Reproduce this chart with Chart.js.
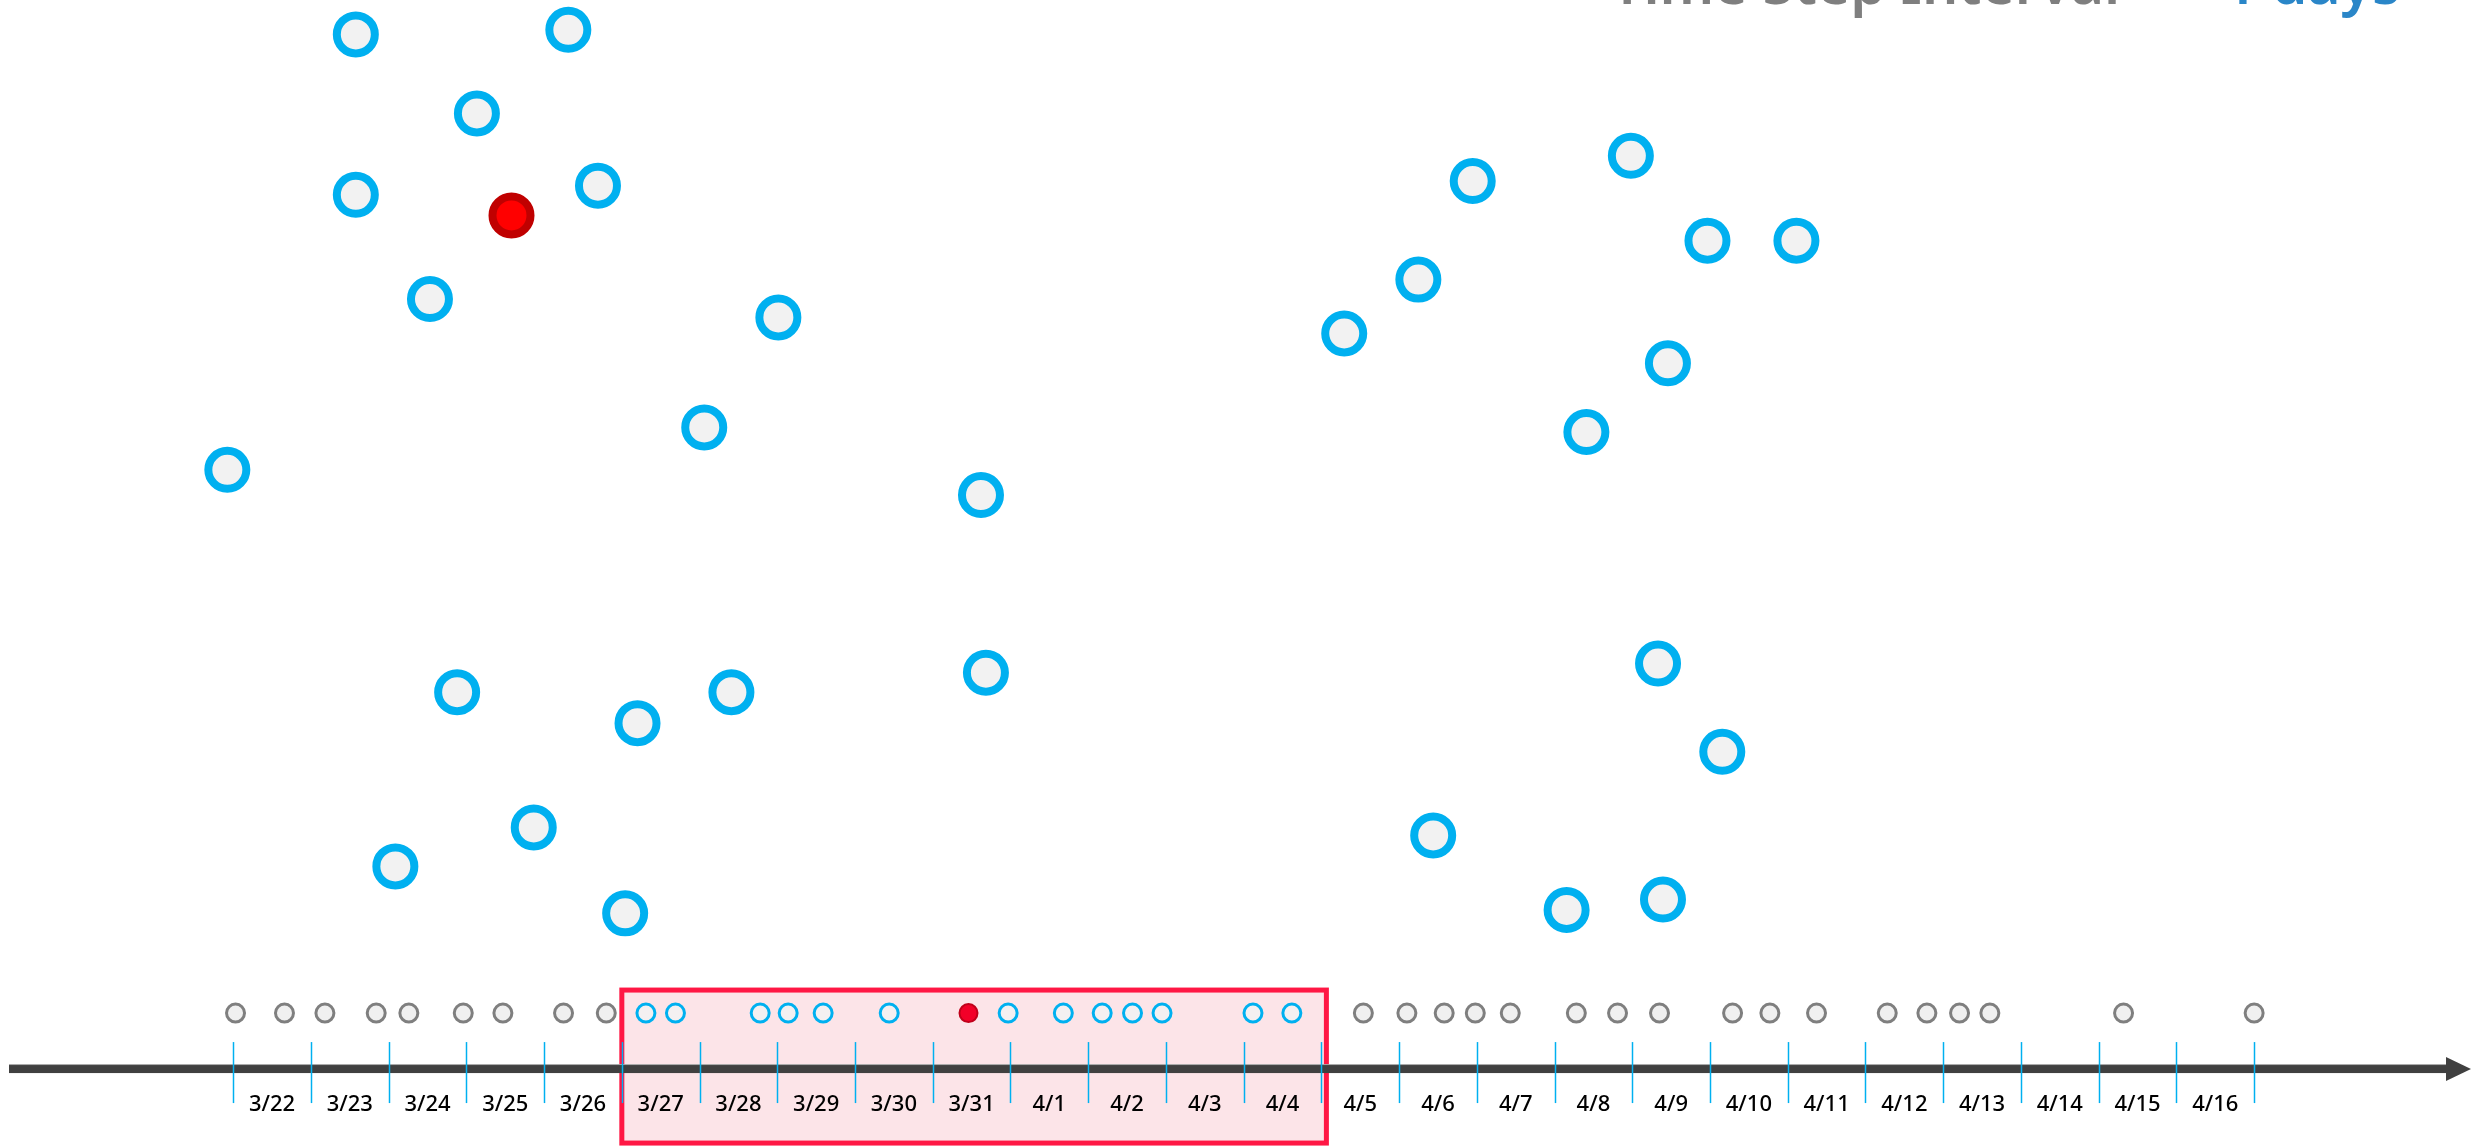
<!DOCTYPE html>
<html>
<head>
<meta charset="utf-8">
<script src="https://cdn.jsdelivr.net/npm/chart.js@4/dist/chart.umd.min.js"></script>
<style>html,body{margin:0;padding:0;background:#fff;overflow:hidden}canvas{display:block}</style>
</head>
<body>
<canvas id="c" width="2471" height="1146"></canvas>
<script>
// ---------- DATA ----------
const dayLabels = ['3/22','3/23','3/24','3/25','3/26','3/27','3/28','3/29','3/30','3/31',
  '4/1','4/2','4/3','4/4','4/5','4/6','4/7','4/8','4/9','4/10','4/11','4/12','4/13','4/14','4/15','4/16'];
// event times, in days since 3/22 00:00
const pastEventDays   = [0.03, 0.66, 1.18, 1.84, 2.26, 2.96, 3.47, 4.25, 4.80];
const windowEventDays = [5.31, 5.69, 6.78, 7.14, 7.59, 8.44, 9.97, 10.68, 11.18, 11.57, 11.95, 13.12, 13.62];
const currentEventDays = [9.46];
const futureEventDays = [14.54, 15.10, 15.58, 15.98, 16.43, 17.28, 17.81, 18.35, 19.29, 19.77, 20.37,
  21.28, 21.79, 22.21, 22.60, 24.32, 26.00];
const windowStartDay = 5;   // 3/27
const windowEndDay = 14;    // end of 4/4
// spatial positions (percent of panel)
const neighborX = [14.4, 23.0, 19.3, 14.4, 24.2, 17.4, 31.5, 28.5, 9.2, 39.7, 18.5, 29.6, 39.9, 25.8, 21.6, 16.0, 25.3,
  59.6, 66.0, 69.1, 72.7, 57.4, 54.4, 67.5, 64.2, 67.1, 69.7, 58.0, 63.4, 67.3];
const neighborY = [97.0, 97.4, 90.1, 83.0, 83.8, 73.9, 72.3, 62.7, 59.0, 56.8, 39.6, 39.6, 41.3, 36.9, 27.8, 24.4, 20.3,
  84.2, 86.4, 79.0, 79.0, 75.6, 70.9, 68.3, 62.3, 42.1, 34.4, 27.1, 20.6, 21.5];
const currentX = [20.7];
const currentY = [81.2];
const titleLabel = 'Time Step Interval =';
const titleValue = '1 days';

// ---------- LAYOUT ----------
const ROW_Y = 11.6;  // timeline row on the sy scale

const pts = (xs, ys) => xs.map((v, i) => ({x: v, y: ys[i]}));
const row = xs => xs.map(v => ({x: v, y: ROW_Y}));

const timelinePlugin = {
  id: 'timeline',
  beforeDatasetsDraw(chart) {
    const ctx = chart.ctx;
    const x = chart.scales.x, sy = chart.scales.sy;
    const rowPx = sy.getPixelForValue(ROW_Y);
    ctx.save();
    // highlighted window
    const bx0 = x.getPixelForValue(windowStartDay);
    const bx1 = x.getPixelForValue(windowEndDay) + 5;
    const by0 = rowPx - 23, by1 = rowPx + 130;
    ctx.fillStyle = '#fce4e8';
    ctx.fillRect(bx0, by0, bx1 - bx0, by1 - by0);
    ctx.lineWidth = 5;
    ctx.strokeStyle = '#ff1744';
    ctx.strokeRect(bx0, by0, bx1 - bx0, by1 - by0);
    // axis arrow
    const axisY = rowPx + 56;
    ctx.fillStyle = '#a6a6a6';
    ctx.fillRect(9, axisY - 5, 2441, 2);
    ctx.fillStyle = '#404040';
    ctx.fillRect(9, axisY - 4, 2441, 8);
    ctx.beginPath();
    ctx.moveTo(2446, axisY - 12);
    ctx.lineTo(2471, axisY);
    ctx.lineTo(2446, axisY + 12);
    ctx.closePath();
    ctx.fill();
    // day ticks
    ctx.strokeStyle = '#00b0f0';
    ctx.lineWidth = 1.5;
    for (let i = 0; i <= dayLabels.length; i++) {
      const px = Math.round(x.getPixelForValue(i)) + 0.5;
      ctx.beginPath();
      ctx.moveTo(px, rowPx + 29);
      ctx.lineTo(px, rowPx + 90);
      ctx.stroke();
    }
    // day labels
    ctx.fillStyle = '#000';
    ctx.font = '500 22px "Noto Sans"';
    ctx.textAlign = 'center';
    ctx.textBaseline = 'middle';
    dayLabels.forEach((lab, i) => {
      ctx.fillText(lab, x.getPixelForValue(i + 0.5), rowPx + 92);
    });
    ctx.restore();
  },
  afterDraw(chart) {
    const ctx = chart.ctx;
    ctx.save();
    ctx.font = '600 57px "Noto Sans"';
    ctx.textBaseline = 'alphabetic';
    ctx.textAlign = 'left';
    ctx.fillStyle = '#7f7f7f';
    ctx.fillText(titleLabel, 1611, 4);
    ctx.textAlign = 'right';
    ctx.fillStyle = '#2a86c8';
    ctx.fillText(titleValue, 2400, 4);
    ctx.restore();
  }
};

new Chart(document.getElementById('c'), {
  type: 'scatter',
  data: {
    datasets: [
      {label: 'neighbors', data: pts(neighborX, neighborY), xAxisID: 'sx', yAxisID: 'sy',
        pointRadius: 19, borderWidth: 8, backgroundColor: '#f2f2f2', borderColor: '#00b0f0'},
      {label: 'current', data: pts(currentX, currentY), xAxisID: 'sx', yAxisID: 'sy',
        pointRadius: 19, borderWidth: 8, backgroundColor: '#ff0000', borderColor: '#c00000'},
      {label: 'past', data: row(pastEventDays), xAxisID: 'x', yAxisID: 'sy',
        pointRadius: 9, borderWidth: 3, backgroundColor: '#f0f0f0', borderColor: '#7f7f7f'},
      {label: 'future', data: row(futureEventDays), xAxisID: 'x', yAxisID: 'sy',
        pointRadius: 9, borderWidth: 3, backgroundColor: '#f0f0f0', borderColor: '#7f7f7f'},
      {label: 'window', data: row(windowEventDays), xAxisID: 'x', yAxisID: 'sy',
        pointRadius: 9, borderWidth: 3, backgroundColor: '#f4f0f1', borderColor: '#00b0f0'},
      {label: 'currentEvent', data: row(currentEventDays), xAxisID: 'x', yAxisID: 'sy',
        pointRadius: 9, borderWidth: 2, backgroundColor: '#f20028', borderColor: '#c0001a'}
    ]
  },
  options: {
    responsive: false,
    devicePixelRatio: 1,
    animation: false,
    events: [],
    layout: {padding: 0, autoPadding: false},
    plugins: {legend: {display: false}, tooltip: {enabled: false}, title: {display: false}},
    scales: {
      x: {type: 'linear', display: false, min: -3, max: 28.79},
      sx: {type: 'linear', display: false, min: 0, max: 100},
      sy: {type: 'linear', display: false, min: 0, max: 100}
    }
  },
  plugins: [timelinePlugin]
});
</script>
</body>
</html>
